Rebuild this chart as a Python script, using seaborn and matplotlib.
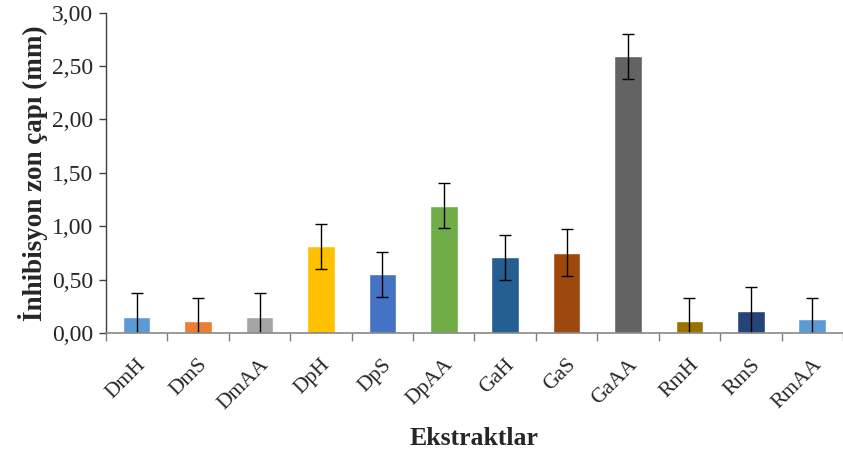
import numpy as np
import pandas as pd
import matplotlib
matplotlib.use("Agg")
import matplotlib.pyplot as plt
from matplotlib.ticker import FuncFormatter, FixedLocator
import seaborn as sns

extracts = ["DmH", "DmS", "DmAA", "DpH", "DpS", "DpAA",
            "GaH", "GaS", "GaAA", "RmH", "RmS", "RmAA"]
zone = [0.15, 0.11, 0.15, 0.81, 0.55, 1.19, 0.71, 0.75, 2.59, 0.11, 0.21, 0.13]
zone_err = [0.225, 0.22, 0.225, 0.21, 0.21, 0.21, 0.21, 0.22, 0.21, 0.22, 0.22, 0.20]
colors = ["#5B9BD5", "#ED7D31", "#A5A5A5", "#FFC000", "#4472C4", "#70AD47",
          "#255E91", "#9E480E", "#636363", "#997300", "#264478", "#5B9BD5"]

sns.set_style("white")
plt.rcParams["font.family"] = ["Liberation Serif", "DejaVu Serif"]

df = pd.DataFrame({"extract": extracts, "zone": zone})

fig = plt.figure(figsize=(8.43, 4.5), dpi=100)
ax = fig.add_axes([0.1257, 0.26, 0.8743, 0.712])

sns.barplot(data=df, x="extract", y="zone", hue="extract", palette=colors,
            width=0.45, legend=False, ax=ax, errorbar=None, saturation=1)
ax.errorbar(np.arange(len(extracts)), zone, yerr=zone_err, fmt="none",
            ecolor="black", elinewidth=1, capsize=4.5, capthick=1)

ax.set_xlim(-0.5, len(extracts) - 0.5)
ax.set_ylim(0, 3)
ax.set_yticks(np.arange(0, 3.01, 0.5))
ax.yaxis.set_major_formatter(FuncFormatter(lambda v, p: f"{v:.2f}".replace(".", ",")))

ax.set_xticks(np.arange(len(extracts)))
ax.set_xticklabels(extracts, rotation=45, ha="right", rotation_mode="anchor")
ax.xaxis.set_minor_locator(FixedLocator(np.arange(-0.5, len(extracts), 1.0)))
ax.tick_params(axis="x", which="major", length=0, pad=16, labelsize=15.5)
ax.tick_params(axis="x", which="minor", length=6, width=1, color="#7f7f7f", direction="out", bottom=True)
ax.tick_params(axis="y", length=5, width=1, color="#404040", direction="out", left=True, labelsize=17, pad=4)

for side in ["top", "right"]:
    ax.spines[side].set_visible(False)
ax.spines["left"].set_color("#404040")
ax.spines["bottom"].set_color("#888888")
ax.spines["left"].set_linewidth(1)
ax.spines["bottom"].set_linewidth(1.2)

ax.set_xlabel("Ekstraktlar", fontsize=18.5, fontweight="bold", labelpad=10)
ax.set_ylabel("İnhibisyon zon çapı (mm)", fontsize=19.5, fontweight="bold", labelpad=3)

fig.savefig("out.png", dpi=100)
